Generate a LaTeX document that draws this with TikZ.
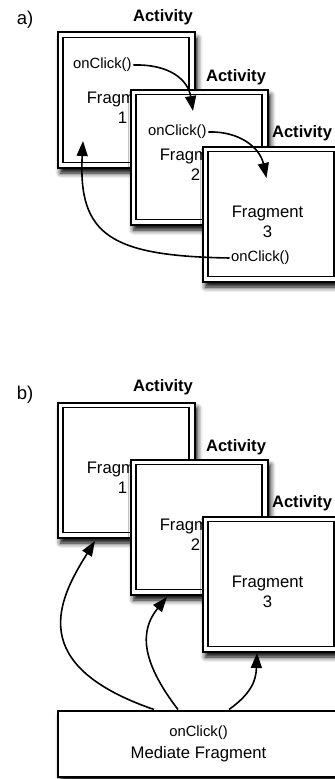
\documentclass[tikz,border=0pt]{standalone}
\usepackage{fontspec}
\setmainfont{Liberation Sans}
\usetikzlibrary{arrows.meta,shadows.blur,calc}

\tikzset{
  win/.style={rectangle, draw=black, line width=2bp, fill=white, inner sep=0pt,
    minimum width=137bp, minimum height=135bp, anchor=north west,
    blur shadow={shadow xshift=3bp, shadow yshift=-5.5bp, shadow blur radius=5bp, shadow opacity=100}},
  pane/.style={draw=black, line width=1.7bp},
  title/.style={font=\fontsize{16.6bp}{20bp}\selectfont\bfseries, inner sep=0pt},
  frag/.style={font=\fontsize{16.7bp}{20bp}\selectfont, align=center, inner sep=0pt},
  call/.style={font=\fontsize{14.8bp}{18bp}\selectfont, inner sep=1.5bp, anchor=west},
  tag/.style={font=\fontsize{18.5bp}{22bp}\selectfont, inner sep=0pt},
  link/.style={draw=black, line width=1.6bp, -{Triangle[length=15bp,width=11bp]}},
}

% inner border of a double-framed activity window
\newcommand\innerpane[1]{%
  \draw[pane] ([shift={(6.25,6)}]#1.north west) rectangle ([shift={(-6.25,-6)}]#1.south east);}

\begin{document}
\begin{tikzpicture}[x=1bp,y=-1bp]
\useasboundingbox (0,0) rectangle (334,779);

% ---------------- a) fragments calling each other ----------------
\node[tag] (la) at (25,20) {a)};

\node[win] (a1) at (56.5,31.5) {};
\innerpane{a1}
\node[title] (ta1) at (163,17) {Activity};
\node[call] (c1) at (71.5,65) {onClick()};
\node[frag] (f1) at ($(a1.north west)+(66,76.5)$) {Fragment\\1};

\node[win] (a2) at (129.5,88.5) {};
\innerpane{a2}
\node[title] (ta2) at (236,77) {Activity};
\node[call] (c2) at (146.5,132) {onClick()};
\node[frag] (f2) at ($(a2.north west)+(66,76.5)$) {Fragment\\2};

\node[win] (a3) at (201.5,145.5) {};
\innerpane{a3}
\node[title] (ta3) at (302,133) {Activity};
\node[frag] (f3) at ($(a3.north west)+(66,76.5)$) {Fragment\\3};
\node[call] (c3) at (229.5,258) {onClick()};

\coordinate (t1) at (193,111);
\coordinate (t2) at (266.5,178);
\coordinate (t3) at (83,141);
\draw[link] (c1.east) .. controls (170,64) and (188,80) .. (t1);
\draw[link] (c2.east) .. controls (240,131) and (260,148) .. (t2);
\draw[link] (c3.west) .. controls (110,256) and (78,235) .. (t3);

% ---------------- b) a mediating fragment ----------------
\node[tag] (lb) at (25,395) {b)};

\node[win] (b1) at (56.5,401.5) {};
\innerpane{b1}
\node[title] (tb1) at (163,387) {Activity};
\node[frag] (g1) at ($(b1.north west)+(66,76.5)$) {Fragment\\1};

\node[win] (b2) at (129.5,458.5) {};
\innerpane{b2}
\node[title] (tb2) at (236,447) {Activity};
\node[frag] (g2) at ($(b2.north west)+(66,76.5)$) {Fragment\\2};

\node[win] (b3) at (201.5,515.5) {};
\innerpane{b3}
\node[title] (tb3) at (302,503) {Activity};
\node[frag] (g3) at ($(b3.north west)+(66,76.5)$) {Fragment\\3};

\node[win, minimum width=282bp, minimum height=66bp, align=center,
      font=\fontsize{16.7bp}{22bp}\selectfont] (med) at (56.5,709.5)
  {{\fontsize{14.8bp}{22bp}\selectfont onClick()}\\Mediate Fragment};

\coordinate (u1) at (95,541);
\coordinate (u2) at (167,597);
\coordinate (u3) at (257,653);
\draw[link] ([xshift=97.5bp]med.north west) .. controls (25,665) and (58,600) .. (u1);
\draw[link] ([xshift=121.5bp]med.north west) .. controls (140,660) and (140,630) .. (u2);
\draw[link] ([xshift=172.5bp]med.north west) .. controls (252,693) and (256,680) .. (u3);

\end{tikzpicture}
\end{document}
